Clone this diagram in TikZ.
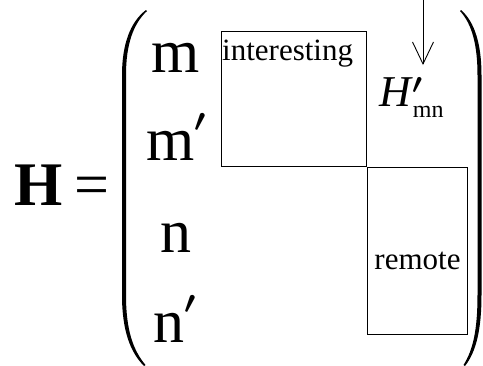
\documentclass[tikz,border=0pt]{standalone}
\usepackage{amsmath}
\usepackage{graphicx}
\usepackage{fontspec}
\setmainfont{Liberation Serif}
\usetikzlibrary{arrows.meta, positioning}

\newcommand{\bprime}{\ensuremath{^{\boldsymbol{\prime}}}}

\begin{document}
\begin{tikzpicture}[
    x=1pt, y=-1pt,
    bigsym/.style={inner sep=0pt, anchor=base, font=\fontsize{62}{62}\selectfont},
    rowlab/.style={inner sep=0pt, anchor=base west, font=\fontsize{62}{62}\selectfont},
    block/.style={rectangle, draw, line width=1pt, anchor=north west, inner sep=0pt},
    blocklab/.style={inner sep=0pt, font=\fontsize{31}{31}\selectfont},
    arrow/.style={-{Straight Barb[length=22pt, width=21pt]}, line width=0.9pt},
    paren/.style={fill=black, draw=none}
]
\useasboundingbox (0,0) rectangle (483,365);

% Left-hand side
\node[bigsym, font=\bfseries\fontsize{62}{62}\selectfont] (H) at (38.5,205) {H};
\node[bigsym] (eq) at (91.5,205) {=};

% Parentheses
\fill[paren] (146,10) .. controls (130,22) and (122,45) .. (122,75) -- (122,295)
    .. controls (122,330) and (130,352) .. (144,366) -- (145.5,365)
    .. controls (133,350) and (126,330) .. (126,295) -- (126,75)
    .. controls (126,45) and (133,24) .. (147,11) -- cycle;
\fill[paren] (461,10) .. controls (475,22) and (481.5,45) .. (481.5,75) -- (481.5,295)
    .. controls (481.5,330) and (476,352) .. (465,366) -- (463.5,365)
    .. controls (473,350) and (477.5,330) .. (477.5,295) -- (477.5,75)
    .. controls (477.5,45) and (472,24) .. (460,11) -- cycle;

% Row labels
\node[bigsym] (m) at (175.5,72) {m};
\node[rowlab] (mp) at (146,160) {m\raisebox{17pt}{\scalebox{1.3}{\bprime}}};
\node[bigsym] (n) at (176,252) {n};
\node[rowlab] (np) at (153,342) {n\raisebox{17pt}{\scalebox{1.3}{\bprime}}};

% Blocks
\node[block, minimum width=145, minimum height=135] (inter) at (221,31) {};
\node[block, minimum width=100, minimum height=167] (remote) at (inter.south east) {};
\node[blocklab, anchor=base west] (interlab) at (222,60) {interesting};
\node[blocklab, anchor=base] (remotelab) at (remote.center |- 0,269) {remote};

% Matrix element
\node[inner sep=0pt, anchor=base west, font=\fontsize{44}{44}\selectfont] (hmn) at (379,106)
    {\textit{H}\rlap{\raisebox{2pt}{\scalebox{1.15}{\bprime}}}\raisebox{-11pt}{\fontsize{24}{24}\selectfont mn}};
\coordinate (top) at (423,0);
\draw[arrow] (top) -- (423,65);

\end{tikzpicture}
\end{document}
